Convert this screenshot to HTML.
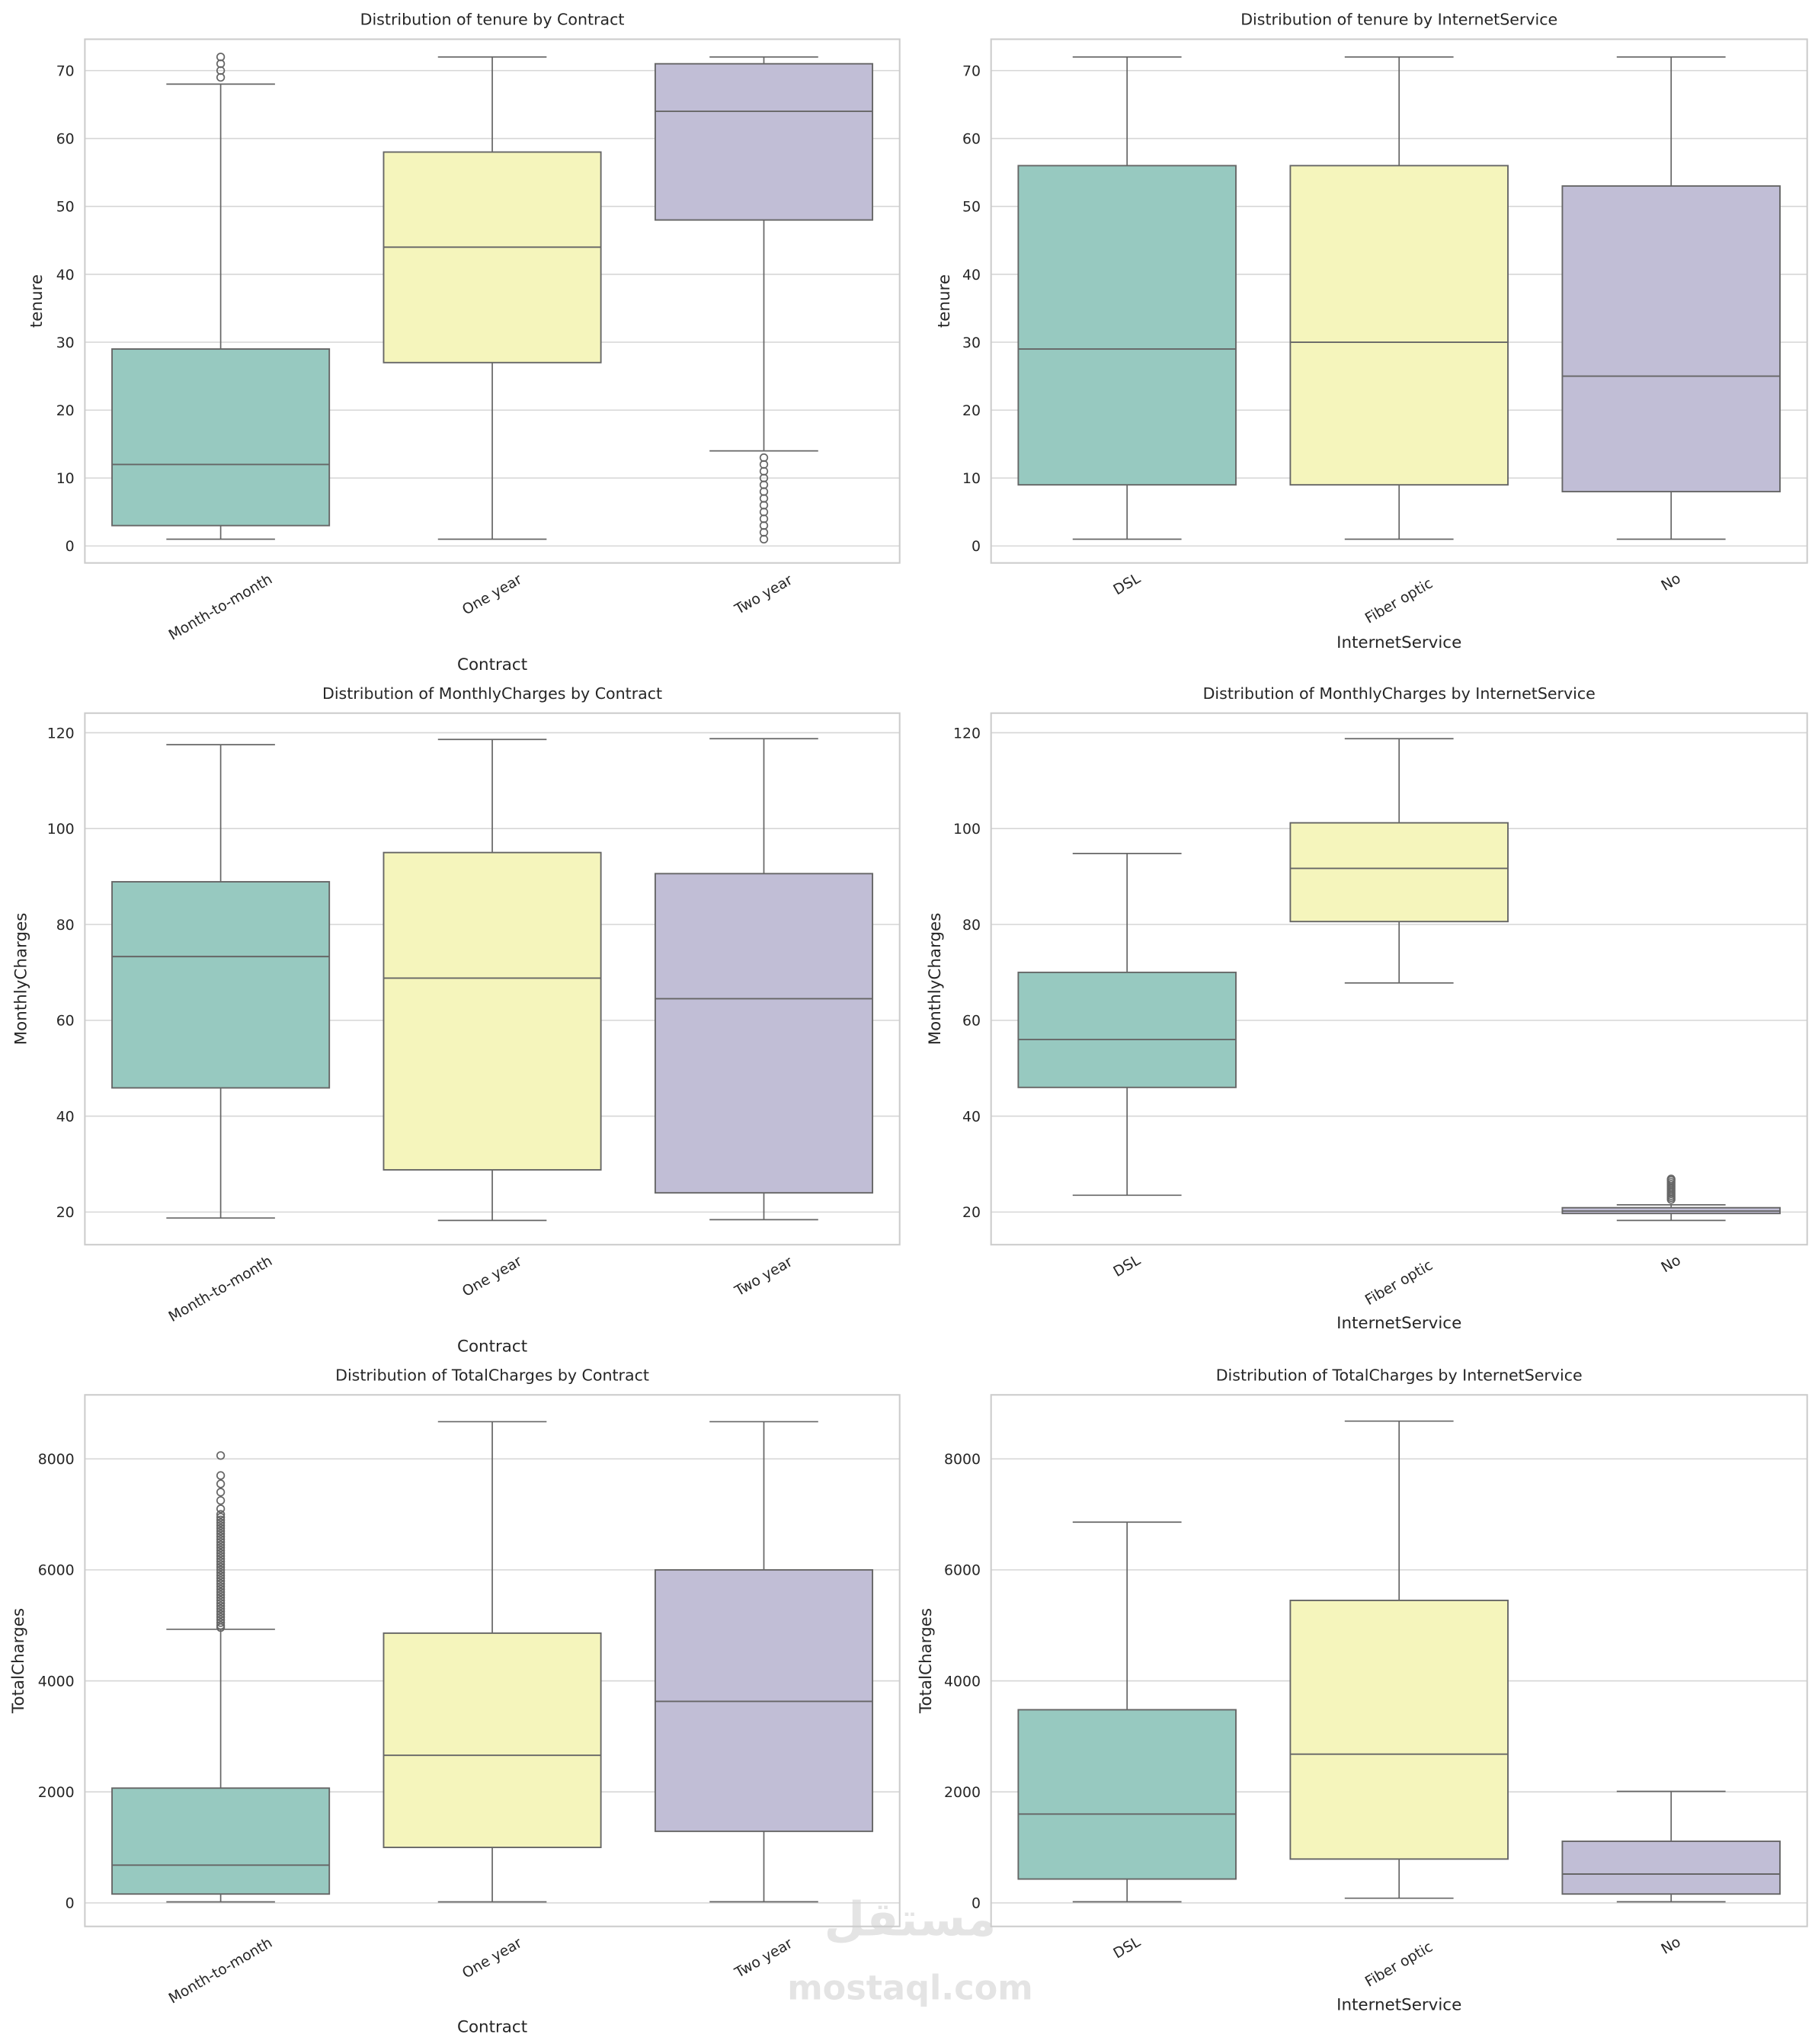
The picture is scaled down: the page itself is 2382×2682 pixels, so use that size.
<!DOCTYPE html>
<html><head><meta charset="utf-8"><style>
html,body{margin:0;padding:0;background:#fff;}
svg{display:block;font-family:"DejaVu Sans","Liberation Sans",sans-serif;}
</style></head><body>
<svg id="fig" width="2382" height="2682" viewBox="0 0 1390 1565" xmlns="http://www.w3.org/2000/svg">
<text x="697" y="1482" text-anchor="middle" font-size="36" font-weight="bold" fill="#e4e4e4" font-family="'Noto Sans CJK SC','DejaVu Sans',sans-serif">مستقل</text>
<text x="697" y="1531" text-anchor="middle" font-size="26" font-weight="bold" fill="#e4e4e4">mostaql.com</text>
</svg>
<script>
const contractCats = ["Month-to-month","One year","Two year"];
const internetCats = ["DSL","Fiber optic","No"];
// [whiskerLow, q1, median, q3, whiskerHigh]
const tenureByContract = [[1,3,12,29,68],[1,27,44,58,72],[14,48,64,71,72]];
const tenureByContractOut = [[69,70,71,72],[],[1,2,3,4,5,6,7,8,9,10,11,12,13]];
const tenureByInternet = [[1,9,29,56,72],[1,9,30,56,72],[1,8,25,53,72]];
const tenureByInternetOut = [[],[],[]];
const monthlyByContract = [[18.75,45.9,73.3,88.9,117.5],[18.25,28.8,68.8,95,118.6],[18.4,24,64.5,90.6,118.75]];
const monthlyByContractOut = [[],[],[]];
const monthlyByInternet = [[23.5,46,56,70,94.8],[67.8,80.6,91.7,101.2,118.75],[18.25,19.7,20.2,20.9,21.5]];
const monthlyByInternetOut = [[],[],[22.6,23,23.4,23.8,24.2,24.6,25,25.4,25.8,26.2,26.6,26.9]];
const totalByContract = [[18.8,160,680,2068,4930],[18.8,1000,2660,4860,8670],[20,1290,3630,6000,8670]];
const totalByContractOut = [[4960,5000,5050,5100,5150,5200,5250,5300,5350,5400,5450,5500,5550,5600,5650,5700,5750,5800,5850,5900,5950,6000,6050,6100,6150,6200,6250,6300,6350,6400,6450,6500,6550,6600,6650,6700,6750,6800,6850,6900,6950,7000,7100,7250,7400,7550,7700,8060],[],[]];
const totalByInternet = [[20,430,1600,3480,6860],[85,790,2680,5450,8680],[20,160,520,1110,2010]];
const totalByInternetOut = [[],[],[]];
const tenureTicks = [0,10,20,30,40,50,60,70];
const monthlyTicks = [20,40,60,80,100,120];
const totalTicks = [0,2000,4000,6000,8000];

const NS="http://www.w3.org/2000/svg";
const svg=document.getElementById('fig');
const colors=["#97c9c0","#f5f5bc","#c1bed6"];
const lc="#666666";
function mk(tag,attrs,parent){const e=document.createElementNS(NS,tag);for(const k in attrs)e.setAttribute(k,attrs[k]);(parent||svg).appendChild(e);return e;}

function panel(o){
  const g=mk('g',{});
  
  
  const {x0,x1,y0,y1}=o;
  const yS=v=>o.pyA+(v-o.vA)*(o.pyB-o.pyA)/(o.vB-o.vA);
  const band=(x1-x0)/3;
  const xC=i=>x0+band*(i+0.5);
  o.ticks.forEach(t=>{
    const y=yS(t);
    const gl=mk('line',{x1:x0,x2:x1,y1:y,y2:y,stroke:"#d6d6d6","stroke-width":0.9},g);
    
    
    const tl=mk('text',{x:x0-8,y:y+4,"text-anchor":"end","font-size":11,fill:"#262626"},g);
    
    
    tl.textContent=t;
  });
  const bw=band*0.8;
  o.cats.forEach((c,i)=>{
    const d=o.data[i],cx=xC(i);
    const bg=mk('g',{},g);
    
    
    mk('line',{x1:cx,x2:cx,y1:yS(d[0]),y2:yS(d[1]),stroke:lc,"stroke-width":1},bg);
    mk('line',{x1:cx,x2:cx,y1:yS(d[3]),y2:yS(d[4]),stroke:lc,"stroke-width":1},bg);
    mk('line',{x1:cx-bw/4,x2:cx+bw/4,y1:yS(d[0]),y2:yS(d[0]),stroke:lc,"stroke-width":1},bg);
    mk('line',{x1:cx-bw/4,x2:cx+bw/4,y1:yS(d[4]),y2:yS(d[4]),stroke:lc,"stroke-width":1},bg);
    mk('rect',{x:cx-bw/2,y:yS(d[3]),width:bw,height:Math.max(0.5,yS(d[1])-yS(d[3])),fill:colors[i],stroke:lc,"stroke-width":1.1},bg);
    mk('line',{x1:cx-bw/2,x2:cx+bw/2,y1:yS(d[2]),y2:yS(d[2]),stroke:lc,"stroke-width":1.1},bg);
    o.out[i].forEach(v=>{
      const p=mk('circle',{cx:cx,cy:yS(v),r:2.8,fill:"none",stroke:lc,"stroke-width":1},bg);
      
      
    });
    const w=c.length*6.4, bh=w*0.5+11*0.866;
    const ty=y1+7+bh/2;
    const tx=mk('text',{x:cx,y:ty,"text-anchor":"middle","dominant-baseline":"central","font-size":11,fill:"#262626",transform:`rotate(-30 ${cx} ${ty})`},g);
    
    
    tx.textContent=c;
  });
  const fr=mk('rect',{x:x0,y:y0,width:x1-x0,height:y1-y0,fill:"none",stroke:"#cccccc","stroke-width":1.2},g);
  
  
  const ti=mk('text',{x:(x0+x1)/2,y:y0-11,"text-anchor":"middle","font-size":12,fill:"#262626"},g);
  
  
  ti.textContent=o.title;
  const xl=mk('text',{x:(x0+x1)/2,y:o.xly,"text-anchor":"middle","font-size":12.5,fill:"#262626"},g);
  
  
  xl.textContent=o.xlabel;
  const yl=mk('text',{x:o.ylx,y:(y0+y1)/2,"text-anchor":"middle","font-size":12.5,fill:"#262626",transform:`rotate(-90 ${o.ylx} ${(y0+y1)/2})`},g);
  
  
  yl.textContent=o.ylabel;
}
const L={x0:65,x1:689},R={x0:759,x1:1384};
const r1={y0:30,y1:431,vA:0,pyA:418,vB:70,pyB:54,ticks:tenureTicks,ylabel:"tenure"};
const r2={y0:546,y1:953,vA:20,pyA:928,vB:120,pyB:561,ticks:monthlyTicks,ylabel:"MonthlyCharges"};
const r3={y0:1068,y1:1475,vA:0,pyA:1457,vB:8000,pyB:1117,ticks:totalTicks,ylabel:"TotalCharges"};
panel({...L,...r1,name:"tenure-by-contract",cats:contractCats,data:tenureByContract,out:tenureByContractOut,title:"Distribution of tenure by Contract",xlabel:"Contract",xly:513,ylx:32});
panel({...R,...r1,name:"tenure-by-internet",cats:internetCats,data:tenureByInternet,out:tenureByInternetOut,title:"Distribution of tenure by InternetService",xlabel:"InternetService",xly:496,ylx:727});
panel({...L,...r2,name:"monthly-by-contract",cats:contractCats,data:monthlyByContract,out:monthlyByContractOut,title:"Distribution of MonthlyCharges by Contract",xlabel:"Contract",xly:1035,ylx:20});
panel({...R,...r2,name:"monthly-by-internet",cats:internetCats,data:monthlyByInternet,out:monthlyByInternetOut,title:"Distribution of MonthlyCharges by InternetService",xlabel:"InternetService",xly:1017,ylx:720});
panel({...L,...r3,name:"total-by-contract",cats:contractCats,data:totalByContract,out:totalByContractOut,title:"Distribution of TotalCharges by Contract",xlabel:"Contract",xly:1556,ylx:18});
panel({...R,...r3,name:"total-by-internet",cats:internetCats,data:totalByInternet,out:totalByInternetOut,title:"Distribution of TotalCharges by InternetService",xlabel:"InternetService",xly:1539,ylx:713});
</script>
</body></html>
